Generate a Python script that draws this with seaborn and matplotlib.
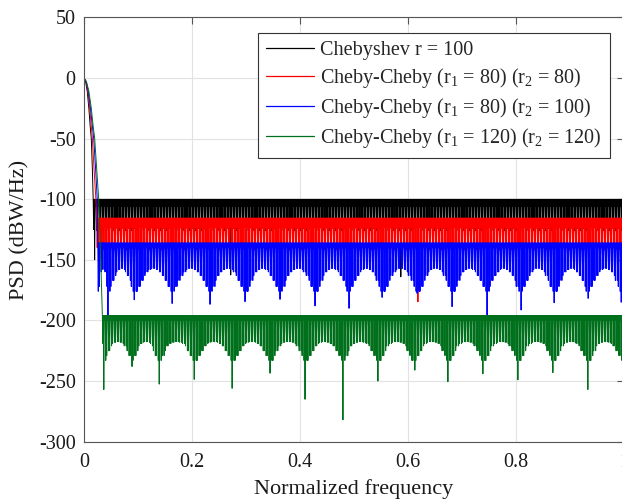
import numpy as np
import pandas as pd
import matplotlib
matplotlib.use("Agg")
import matplotlib.pyplot as plt
import seaborn as sns
from matplotlib.lines import Line2D

sns.set_theme(style="white")
plt.rcParams["font.family"] = ["Liberation Serif", "DejaVu Serif"]
plt.rcParams["mathtext.fontset"] = "custom"
plt.rcParams["mathtext.rm"] = "Liberation Serif"
plt.rcParams["mathtext.it"] = "Liberation Serif:italic"

# ---------------------------------------------------------------- axes text
freq_ticks = [0, 0.2, 0.4, 0.6, 0.8, 1.0]
freq_tick_labels = ["0", "0.2", "0.4", "0.6", "0.8", "1"]
psd_ticks = [-300, -250, -200, -150, -100, -50, 0, 50]
psd_tick_labels = ["-300", "-250", "-200", "-150", "-100", "-50", "0", "50"]

series_names = [
    "Chebyshev r = 100",
    "Cheby-Cheby (r$_1$ = 80) (r$_2$ = 80)",
    "Cheby-Cheby (r$_1$ = 80) (r$_2$ = 100)",
    "Cheby-Cheby (r$_1$ = 120) (r$_2$ = 120)",
]
series_colors = ["#000000", "#ff0000", "#0000ff", "#00701c"]

# ------------------------------------------------- Chebyshev r = 100 (black)
cheb_lobe_f = [0.0, 0.003, 0.006, 0.009, 0.0115, 0.0135, 0.0155, 0.017]
cheb_lobe_db = [0.0, -3, -11, -25, -40, -50, -75, -100]
cheb_start = 0.017
cheb_top = -100
cheb_shallow = -106
cheb_dips = [-124, -128, -121, -126, -130, -123]
cheb_spike_f = [0.0175, 0.021, 0.272, 0.588]
cheb_spike_db = [-125, -150, -162.5, -164]

# ------------------------------------------ Cheby-Cheby 80 / 80 (red)
cc8080_lobe_f = [0.0, 0.0035, 0.007, 0.0105, 0.0135, 0.0155, 0.019, 0.022, 0.0235]
cc8080_lobe_db = [0.0, -3, -11, -25, -40, -50, -78, -100, -116]
cc8080_start = 0.0235
cc8080_top = -115.5
cc8080_shallow = -123
cc8080_dips = [-140, -137, -142, -138]
cc8080_spike_f = [0.1698, 0.619]
cc8080_spike_db = [-172, -184.6]

# ----------------------------------------- Cheby-Cheby 80 / 100 (blue)
cc80100_lobe_f = [0.0, 0.004, 0.008, 0.012, 0.0155, 0.018, 0.0215, 0.0245, 0.0255]
cc80100_lobe_db = [0.0, -3, -11, -25, -40, -50, -75, -100, -136]
cc80100_start = 0.0255
cc80100_top = -136
cc80100_shallow = -140
cc80100_arch = [-176, -172, -167, -163, -160, -158, -157, -157, -158, -160, -163, -167, -172, -176]
cc80100_cusp_f = [0.045, 0.0944, 0.1636, 0.2333, 0.2994, 0.363, 0.4296, 0.4913,
                  0.5543, 0.619, 0.6828, 0.7457, 0.8087, 0.872, 0.934, 0.997]
cc80100_cusp_db = [-197, -183, -186, -186.7, -184.5, -182.6, -188, -190,
                   -181, -177.7, -188.6, -195.5, -191.4, -185.4, -181.8, -185]

# ---------------------------------------- Cheby-Cheby 120 / 120 (green)
cc120_lobe_f = [0.0, 0.0045, 0.009, 0.0135, 0.017, 0.0198, 0.0235, 0.0272, 0.031, 0.034]
cc120_lobe_db = [0.0, -3, -11, -25, -40, -50, -75, -100, -150, -196]
cc120_start = 0.034
cc120_top = -196
cc120_shallow = -200
cc120_arch = [-233, -229, -225, -221, -219, -218, -217.5, -217.5, -218, -219, -221, -225, -229, -233]
cc120_cusp_f = [0.037, 0.0895, 0.139, 0.2056, 0.276, 0.3457, 0.412, 0.479,
                0.546, 0.612, 0.676, 0.741, 0.8056, 0.871, 0.934, 0.998]
cc120_cusp_db = [-257, -238, -252.5, -248.6, -256, -243.5, -265, -282,
                 -250, -241, -250.5, -244, -249, -243, -257, -245]

STEP = 0.0018        # spacing of the drawn sidelobe ripples
STRIPE = 3           # every third ripple stays shallow, leaving a light stripe


def build_trace(lobe_f, lobe_db, start, top, shallow, dips=None, arch=None,
                cusp_f=(), cusp_db=(), spike_f=(), spike_db=()):
    """Main lobe followed by the rippling sidelobe floor of one spectrum."""
    tops = np.arange(start, 1.0 + 1e-9, STEP)
    dip_x = tops[:-1] + STEP / 2
    if arch is None:
        dip_y = np.resize(np.asarray(dips, float), dip_x.size)
    else:
        edges = np.unique(np.concatenate([[start], cusp_f, [1.0]]))
        dip_y = np.empty(dip_x.size)
        for k, x in enumerate(dip_x):
            j = min(max(np.searchsorted(edges, x) - 1, 0), len(edges) - 2)
            t = (x - edges[j]) / (edges[j + 1] - edges[j])
            dip_y[k] = arch[min(int(t * len(arch)), len(arch) - 1)]
    dip_y[STRIPE - 1::STRIPE] = shallow
    for f, db in list(zip(cusp_f, cusp_db)) + list(zip(spike_f, spike_db)):
        k = np.argmin(np.abs(dip_x - f))
        if k % STRIPE == STRIPE - 1:
            k = max(k - 1, 0)
        dip_y[k] = db
    xs = np.empty(tops.size + dip_x.size)
    ys = np.empty_like(xs)
    xs[0::2], xs[1::2] = tops, dip_x
    ys[0::2], ys[1::2] = top, dip_y
    f = np.concatenate([lobe_f[:-1], xs])
    db = np.concatenate([lobe_db[:-1], ys])
    return pd.DataFrame({"freq": f, "psd": db})


traces = [
    build_trace(cheb_lobe_f, cheb_lobe_db, cheb_start, cheb_top, cheb_shallow,
                dips=cheb_dips, spike_f=cheb_spike_f, spike_db=cheb_spike_db),
    build_trace(cc8080_lobe_f, cc8080_lobe_db, cc8080_start, cc8080_top, cc8080_shallow,
                dips=cc8080_dips, spike_f=cc8080_spike_f, spike_db=cc8080_spike_db),
    build_trace(cc80100_lobe_f, cc80100_lobe_db, cc80100_start, cc80100_top, cc80100_shallow,
                arch=cc80100_arch, cusp_f=cc80100_cusp_f, cusp_db=cc80100_cusp_db),
    build_trace(cc120_lobe_f, cc120_lobe_db, cc120_start, cc120_top, cc120_shallow,
                arch=cc120_arch, cusp_f=cc120_cusp_f, cusp_db=cc120_cusp_db),
]

fig = plt.figure(figsize=(6.22, 5.03), dpi=100)
ax = fig.add_axes([84 / 622, 1 - 441.7 / 503, 540 / 622, (441.7 - 17.3) / 503])

for df, color in zip(traces, series_colors):
    sns.lineplot(data=df, x="freq", y="psd", color=color, lw=0.7,
                 estimator=None, sort=False, ax=ax, legend=False)

ax.set_xlim(0, 1)
ax.set_ylim(-300, 50)
ax.set_xticks(freq_ticks, freq_tick_labels)
ax.set_yticks(psd_ticks, psd_tick_labels)
ax.grid(True, color="#e2e2e2", lw=0.8)
ax.set_axisbelow(True)
for side, spine in ax.spines.items():
    spine.set_color("#555555")
    spine.set_linewidth(0.8)
ax.tick_params(direction="in", length=5, width=0.8, color="#555555",
               top=True, right=True, labelsize=14.5, labelcolor="#1a1a1a")
ax.tick_params(axis="x", pad=8)
ax.tick_params(axis="y", pad=6)
ax.set_xlabel("Normalized frequency", fontsize=16, color="#1a1a1a", labelpad=5)
ax.set_ylabel("PSD (dBW/Hz)", fontsize=16, color="#1a1a1a", labelpad=7)

handles = [Line2D([], [], color=c, lw=0.9) for c in series_colors]
leg = ax.legend(handles, series_names, loc="upper left",
                bbox_to_anchor=(258 / 622, 1 - 33 / 503), bbox_transform=fig.transFigure,
                borderaxespad=0, fontsize=14.5, frameon=True, fancybox=False,
                framealpha=1, edgecolor="#333333", handlelength=2.4,
                handletextpad=0.3, borderpad=0.4, labelspacing=0.3)
leg.get_frame().set_linewidth(0.8)

fig.savefig("out.png", dpi=100)
